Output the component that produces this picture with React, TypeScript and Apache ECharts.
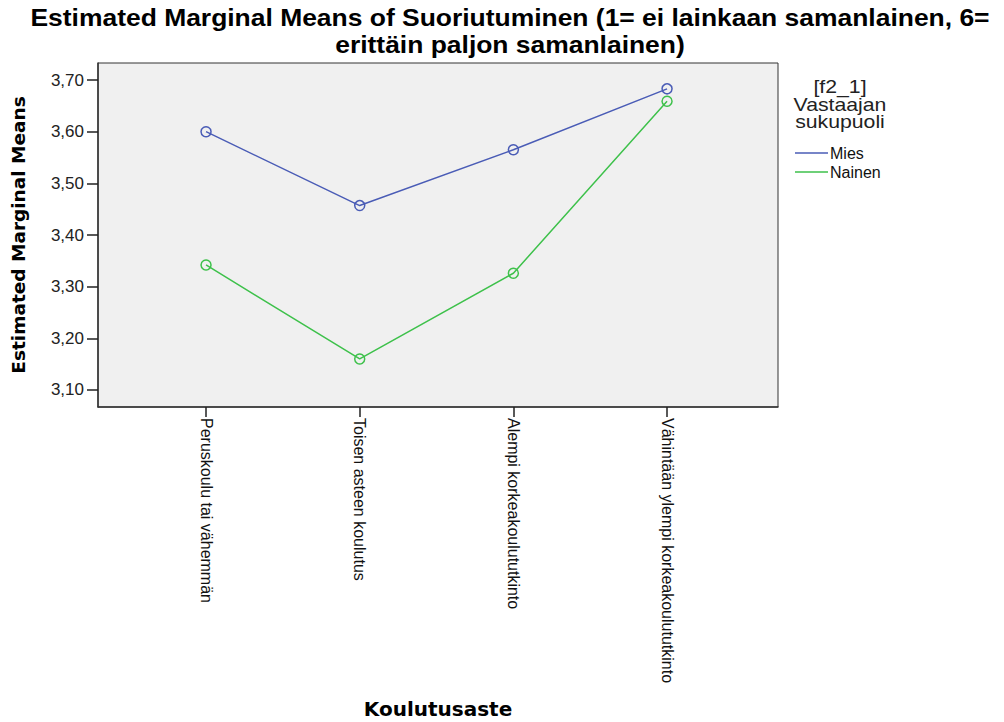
import React, { useEffect, useRef } from "react";
import * as echarts from "echarts";

const categories = [
  "Peruskoulu tai vähemmän",
  "Toisen asteen koulutus",
  "Alempi korkeakoulututkinto",
  "Vähintään ylempi korkeakoulututkinto",
];
const categoryPositions = [0, 1, 2, 3];
const miesValues = [3.6, 3.457, 3.565, 3.683];
const nainenValues = [3.342, 3.16, 3.326, 3.659];
const yTicks = [3.1, 3.2, 3.3, 3.4, 3.5, 3.6, 3.7];
const seriesNames = ["Mies", "Nainen"];
const titleLines = [
  "Estimated Marginal Means of Suoriutuminen (1= ei lainkaan samanlainen, 6=",
  "erittäin paljon samanlainen)",
];
const legendTitle = ["[f2_1]", "Vastaajan", "sukupuoli"];

const BLUE = "#4a5cb6";
const GREEN = "#3ec14b";

export default function App() {
  const ref = useRef<HTMLDivElement>(null);
  useEffect(() => {
    if (!ref.current) return;
    const chart = echarts.init(ref.current, null, { renderer: "svg" });
    const toPairs = (vals: number[]) => vals.map((v, i) => [categoryPositions[i], v]);
    const seriesColors = [BLUE, GREEN];
    chart.setOption({
      animation: false,
      backgroundColor: "#ffffff",
      graphic: [
        {
          type: "text",
          x: 510,
          y: 5,
          scaleX: 1.15,
          style: {
            text: titleLines.join("\n"),
            font: "bold 23px 'Liberation Sans', Arial, sans-serif",
            fill: "#000",
            align: "center",
            verticalAlign: "top",
            lineHeight: 27,
          },
        },
        {
          type: "text",
          x: 840,
          y: 78,
          scaleX: 1.18,
          style: {
            text: legendTitle.join("\n"),
            font: "18px 'Liberation Sans', Arial, sans-serif",
            fill: "#222",
            align: "center",
            verticalAlign: "top",
            lineHeight: 17.5,
          },
        },
      ],
      legend: {
        data: seriesNames.map((n, i) => ({
          name: n,
          itemStyle: { color: seriesColors[i], borderWidth: 0 },
        })),
        orient: "vertical",
        left: 790,
        top: 140,
        icon: "rect",
        itemWidth: 33,
        itemHeight: 1.5,
        itemGap: 3,
        itemStyle: { borderWidth: 0 },
        textStyle: {
          fontSize: 16,
          fontFamily: "'Liberation Sans', Arial, sans-serif",
          color: "#111",
          padding: [0, 0, 0, -3],
        },
      },
      grid: {
        left: 98,
        top: 63,
        width: 680,
        height: 344,
        show: true,
        containLabel: false,
        outerBoundsMode: "none",
        backgroundColor: "#f0f0f0",
        borderColor: "#333",
        borderWidth: 1,
      },
      xAxis: {
        type: "value",
        min: -0.703,
        max: 3.722,
        name: "Koulutusaste",
        nameLocation: "middle",
        nameGap: 292,
        nameTextStyle: {
          fontSize: 20,
          fontWeight: "bold",
          fontFamily: "'DejaVu Sans', Verdana, sans-serif",
          color: "#000",
        },
        splitLine: { show: false },
        axisLine: { show: true, onZero: false, lineStyle: { color: "#333", width: 1.5 } },
        axisTick: {
          show: true,
          length: 10,
          customValues: categoryPositions,
          lineStyle: { color: "#222", width: 1.5 },
        },
        axisLabel: {
          customValues: categoryPositions,
          rotate: -90,
          margin: 11,
          fontSize: 16,
          fontFamily: "'Liberation Sans', Arial, sans-serif",
          color: "#111",
          formatter: (v: number) => categories[Math.round(v)] ?? "",
        },
      },
      yAxis: {
        type: "value",
        min: 3.067,
        max: 3.733,
        name: "Estimated Marginal Means",
        nameLocation: "middle",
        nameGap: 70,
        nameTextStyle: {
          fontSize: 18.5,
          fontWeight: "bold",
          fontFamily: "'DejaVu Sans', Verdana, sans-serif",
          color: "#000",
        },
        splitLine: { show: false },
        axisLine: { show: true, onZero: false, lineStyle: { color: "#333", width: 1.5 } },
        axisTick: {
          show: true,
          length: 11,
          customValues: yTicks,
          lineStyle: { color: "#222", width: 1.5 },
        },
        axisLabel: {
          customValues: yTicks,
          margin: 14,
          fontSize: 17,
          fontFamily: "'Liberation Sans', Arial, sans-serif",
          color: "#222",
          formatter: (v: number) => v.toFixed(2).replace(".", ","),
        },
      },
      series: [
        {
          name: seriesNames[0],
          type: "line",
          data: toPairs(miesValues),
          symbol: "circle",
          symbolSize: 10,
          lineStyle: { color: BLUE, width: 1.5 },
          itemStyle: { color: "rgba(0,0,0,0)", borderColor: BLUE, borderWidth: 1.5 },
        },
        {
          name: seriesNames[1],
          type: "line",
          data: toPairs(nainenValues),
          symbol: "circle",
          symbolSize: 10,
          lineStyle: { color: GREEN, width: 1.5 },
          itemStyle: { color: "rgba(0,0,0,0)", borderColor: GREEN, borderWidth: 1.5 },
        },
      ],
    });
    return () => chart.dispose();
  }, []);
  return (
    <div
      ref={ref}
      style={{ position: "fixed", left: 0, top: 0, width: 1004, height: 722 }}
    />
  );
}
